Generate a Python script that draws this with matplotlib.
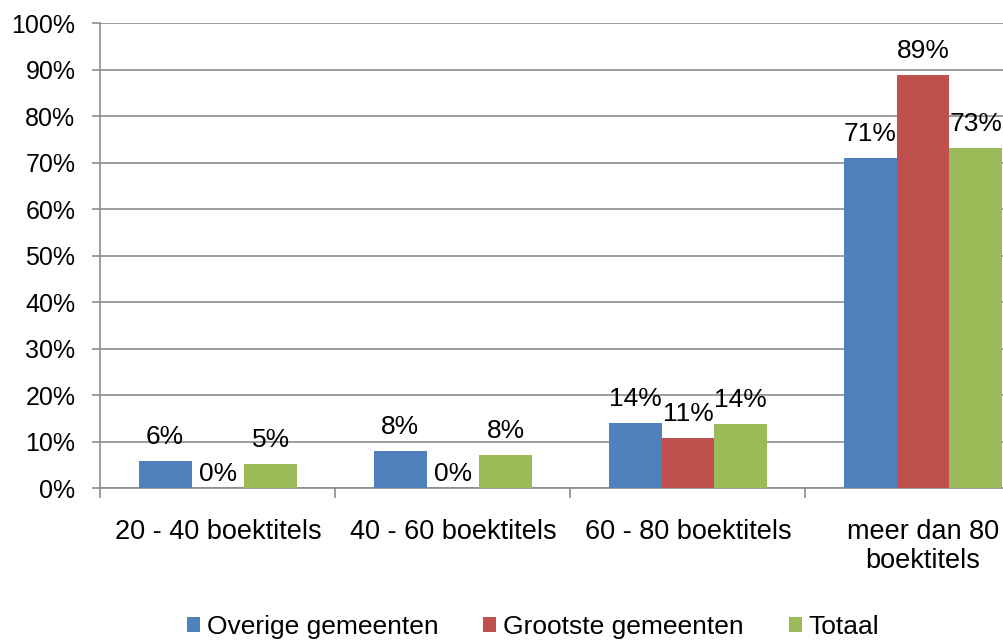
import matplotlib
matplotlib.use("Agg")
import matplotlib.pyplot as plt
from matplotlib.patches import Patch
import numpy as np

plt.rcParams['font.family'] = ['Liberation Sans', 'DejaVu Sans']

categories = ["20 - 40 boektitels", "40 - 60 boektitels", "60 - 80 boektitels", "meer dan 80\nboektitels"]
series_names = ["Overige gemeenten", "Grootste gemeenten", "Totaal"]
overige = [5.9, 8.1, 14.1, 71.1]
grootste = [0.0, 0.0, 10.9, 88.8]
totaal = [5.3, 7.2, 13.9, 73.1]
labels_overige = ["6%", "8%", "14%", "71%"]
labels_grootste = ["0%", "0%", "11%", "89%"]
labels_totaal = ["5%", "8%", "14%", "73%"]
yticks = [0, 10, 20, 30, 40, 50, 60, 70, 80, 90, 100]

colors = ["#4F81BD", "#C0504D", "#9BBB59"]
grid_c = "#8C8C8C"

fig = plt.figure(figsize=(10.04, 6.41), dpi=100)
W, H = 1004, 641
ax = fig.add_axes([100.5 / W, (H - 488.3) / H, 940 / W, (488.3 - 23.3) / H])

x = np.arange(len(categories))
bw = 0.225
series = [overige, grootste, totaal]
labs = [labels_overige, labels_grootste, labels_totaal]
for i, (vals, lab) in enumerate(zip(series, labs)):
    xs = x + (i - 1) * bw
    ax.bar(xs, vals, width=bw, color=colors[i], zorder=3)
    for xi, v, t in zip(xs, vals, lab):
        off = 5 if v == 0 else 12.3
        ax.annotate(t, (xi, v), xytext=(0, off), textcoords="offset points",
                    ha="center", va="baseline", fontsize=19, color="black")

ax.set_xlim(-0.5, 3.5)
ax.set_ylim(0, 100)
ax.set_yticks(yticks)
ax.set_yticklabels([f"{t}%" for t in yticks])
ax.yaxis.grid(True, color=grid_c, linewidth=1.2, zorder=0)
ax.set_axisbelow(True)

ax.set_xticks(np.arange(-0.5, 3.6, 1.0))
ax.set_xticklabels([])
ax.set_xticks(x, minor=True)
ax.set_xticklabels(categories, minor=True, fontsize=19.5, linespacing=1.15)
ax.tick_params(axis="x", which="major", length=7, width=1.2, color=grid_c, direction="out")
ax.tick_params(axis="x", which="minor", length=0, pad=22)
ax.tick_params(axis="y", length=6, width=1.2, color=grid_c, direction="out", pad=12, labelsize=18)

for s in ["top", "right"]:
    ax.spines[s].set_visible(False)
for s in ["left", "bottom"]:
    ax.spines[s].set_color(grid_c)
    ax.spines[s].set_linewidth(1.2)

handles = [Patch(facecolor=c, edgecolor="none") for c in colors]
fig.legend(handles, series_names, loc="center", bbox_to_anchor=(533 / W, (H - 627) / H),
           ncol=3, frameon=False, fontsize=19, handlelength=0.5, handleheight=0.5,
           handletextpad=0.25, columnspacing=1.7, borderpad=0, borderaxespad=0)

fig.savefig("out.png", dpi=100)
